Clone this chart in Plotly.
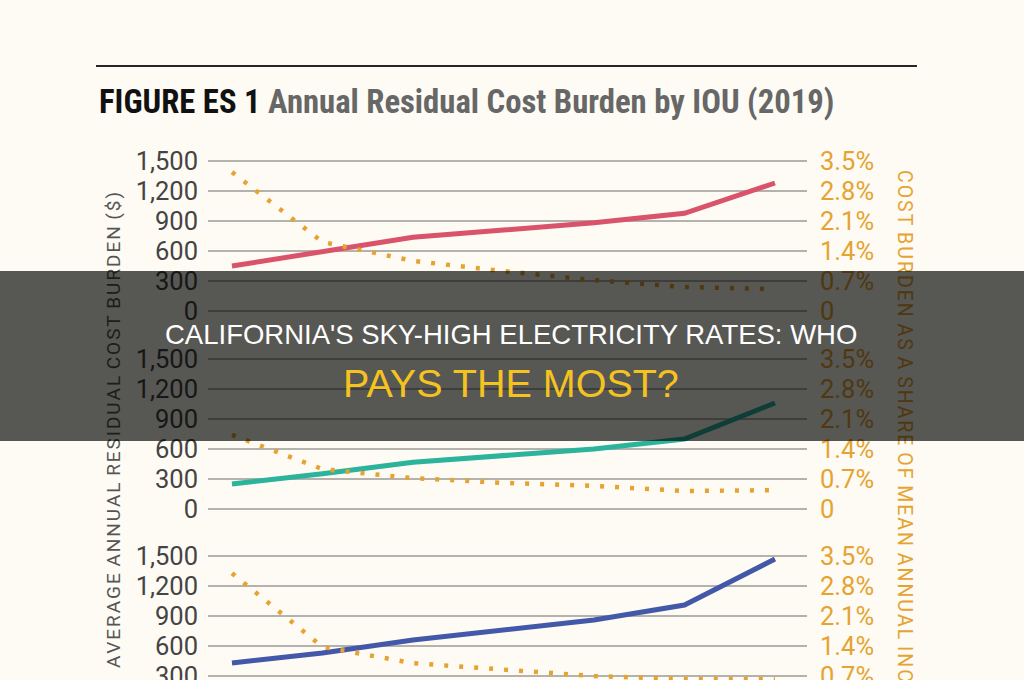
import plotly.graph_objects as go

# ---------------- data ----------------
groups = [1, 2, 3, 4, 5, 6, 7]  # income groups (x positions; axis labels not visible)

burden_ioU1 = [450, 595, 737, 810, 883, 977, 1280]     # $ (red)
share_ioU1 = [3.24, 1.61, 1.17, 0.93, 0.72, 0.56, 0.51]  # % (dotted)

burden_ioU2 = [250, 352, 468, 530, 600, 700, 1060]     # $ (teal)
share_ioU2 = [1.73, 0.93, 0.72, 0.61, 0.54, 0.42, 0.44]

burden_ioU3 = [430, 530, 660, 760, 860, 1010, 1470]    # $ (blue)
share_ioU3 = [3.10, 1.38, 1.00, 0.86, 0.70, 0.63, 0.63]

left_ticks = [0, 300, 600, 900, 1200, 1500]
left_tick_text = ["0", "300", "600", "900", "1,200", "1,500"]
right_ticks = [0, 0.7, 1.4, 2.1, 2.8, 3.5]
right_tick_text = ["0", "0.7%", "1.4%", "2.1%", "2.8%", "3.5%"]

title_bold = "FIGURE ES 1"
title_rest = "Annual Residual Cost Burden by IOU (2019)"
left_title = "AVERAGE ANNUAL RESIDUAL COST BURDEN ($)"
right_title = "COST BURDEN AS A SHARE OF MEAN ANNUAL INCOME"
banner_1 = "CALIFORNIA'S SKY-HIGH ELECTRICITY RATES: WHO"
banner_2 = "PAYS THE MOST?"


def spaced(s):
    """Emulate letter spacing with hair spaces."""
    out = []
    for ch in s:
        if ch == " ":
            out.append("\u00a0")
        else:
            out.append(ch + "\u200a")
    return "".join(out).rstrip("\u200a")


# ---------------- layout helpers ----------------
W, H = 1024, 680
def px(x):
    return x / W
def py(y):
    return 1 - y / H

BG = "#fdfbf3"
GRID = "#b3b2ad"
ORANGE = "#e6a331"
TICK_GRAY = "#444444"
colors = ["#d9536b", "#2bb39c", "#4358a8"]

xdom = [px(208), px(807)]
xrange_ = [-0.265, 6.354]
x_idx = list(range(len(groups)))

panels = [
    # (burden, share, color, top_px, bottom_px, left_range, right_range)
    (burden_ioU1, share_ioU1, colors[0], 158, 314, [-30, 1530], [-0.07, 3.57]),
    (burden_ioU2, share_ioU2, colors[1], 356, 512, [-30, 1530], [-0.07, 3.57]),
    (burden_ioU3, share_ioU3, colors[2], 553, 680, [260, 1530], [0.607, 3.57]),
]

fig = go.Figure()
layout = dict(
    width=W, height=H, autosize=False,
    margin=dict(l=0, r=0, t=0, b=0, pad=0, autoexpand=False),
    paper_bgcolor=BG, plot_bgcolor=BG,
    showlegend=False,
)

tick_font_left = dict(family="Roboto, DejaVu Sans", size=25.5, color=TICK_GRAY)
tick_font_right = dict(family="Roboto, DejaVu Sans", size=25.5, color=ORANGE)

for i, (burden, share, col, top, bot, lr, rr) in enumerate(panels):
    n = i + 1
    xa = "x" if n == 1 else f"x{n}"
    ya_l = 2 * i + 1
    ya_r = 2 * i + 2
    yl = "y" if ya_l == 1 else f"y{ya_l}"
    yr = f"y{ya_r}"
    fig.add_trace(go.Scatter(x=x_idx, y=share, xaxis=xa, yaxis=yr, mode="lines",
                             line=dict(color=ORANGE, width=4.5, dash="4px,11px"),
                             hoverinfo="skip"))
    fig.add_trace(go.Scatter(x=x_idx, y=burden, xaxis=xa, yaxis=yl, mode="lines",
                             line=dict(color=col, width=5),
                             hoverinfo="skip"))
    xkey = "xaxis" if n == 1 else f"xaxis{n}"
    layout[xkey] = dict(domain=xdom, range=xrange_, anchor=yl, visible=False,
                        fixedrange=True, automargin=False)
    ylkey = "yaxis" if ya_l == 1 else f"yaxis{ya_l}"
    dom = [py(bot), py(top)]
    layout[ylkey] = dict(domain=dom, range=lr, anchor=xa, tickvals=left_ticks,
                         ticktext=left_tick_text, showgrid=True, gridcolor=GRID,
                         gridwidth=2, zeroline=False, showline=False,
                         tickfont=tick_font_left, ticklabelstandoff=9,
                         ticklabeloverflow="allow",
                         fixedrange=True, automargin=False)
    layout[f"yaxis{ya_r}"] = dict(domain=dom, range=rr, anchor=xa, overlaying=yl,
                                  side="right", tickvals=right_ticks,
                                  ticktext=right_tick_text, showgrid=False,
                                  zeroline=False, showline=False,
                                  tickfont=tick_font_right, ticklabelstandoff=12,
                                  ticklabeloverflow="allow",
                                  fixedrange=True, automargin=False)

annotations = [
    dict(x=px(97), y=py(102), xref="paper", yref="paper", xanchor="left", yanchor="middle",
         text=f"<b><span style='color:#111111'>{title_bold}</span> {title_rest}</b>",
         showarrow=False,
         font=dict(family="Liberation Sans Narrow, Roboto Condensed, DejaVu Sans Condensed, Liberation Sans",
                   size=32.7, color="#676767")),
    dict(x=px(113), y=py(430), xref="paper", yref="paper", xanchor="center", yanchor="middle",
         text=spaced(left_title), textangle=-90, showarrow=False,
         font=dict(family="Roboto, DejaVu Sans", size=19, color="#555555")),
    dict(x=px(905), y=py(449), xref="paper", yref="paper", xanchor="center", yanchor="middle",
         text=spaced(right_title), textangle=90, showarrow=False,
         font=dict(family="Roboto, DejaVu Sans", size=19.5, color=ORANGE)),
    # dark banner overlay
    dict(x=0.5, y=py(356), xref="paper", yref="paper", xanchor="center", yanchor="middle",
         text=" ", showarrow=False, width=1030, height=170, borderpad=0, borderwidth=0,
         bgcolor="rgba(0,0,0,0.655)"),
    dict(x=px(511), y=py(334), xref="paper", yref="paper", xanchor="center", yanchor="middle",
         text=banner_1, showarrow=False,
         font=dict(family="Liberation Sans, Arial", size=27.5, color="#ffffff")),
    dict(x=px(511), y=py(383), xref="paper", yref="paper", xanchor="center", yanchor="middle",
         text=banner_2, showarrow=False,
         font=dict(family="Liberation Sans, Arial", size=39.5, color="#f5c320")),
]
layout["annotations"] = annotations
layout["shapes"] = [
    dict(type="line", xref="paper", yref="paper", x0=px(96), x1=px(917), y0=py(66), y1=py(66),
         line=dict(color="#262626", width=2)),
]

fig.update_layout(**layout)
fig.write_html("out.html", config={"displayModeBar": False})
